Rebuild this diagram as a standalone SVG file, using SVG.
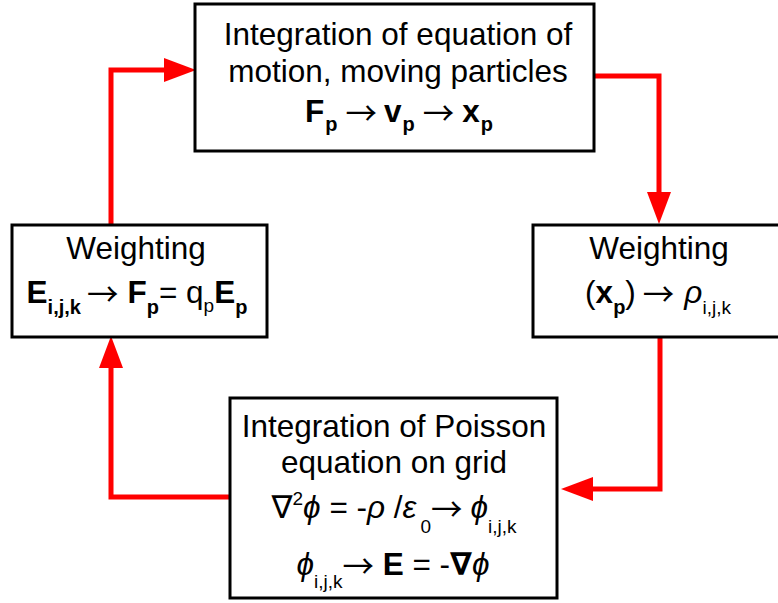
<svg xmlns="http://www.w3.org/2000/svg" width="778" height="603" viewBox="0 0 778 603">
<style>
.box{fill:#fff;stroke:#000;stroke-width:3}
.conn{fill:none;stroke:#ff0000;stroke-width:5;stroke-linejoin:miter}
text{font-family:"Liberation Sans",Arial,"DejaVu Sans",sans-serif;font-size:31.5px;fill:#000;text-anchor:middle}
.b{font-weight:bold}
.s{font-size:19px}
.sb{font-size:20px;font-weight:bold}
.sup{font-size:19px}
.g{font-style:italic}
.ar{font-family:"Noto Sans CJK SC","DejaVu Sans",sans-serif;font-weight:normal}
</style>
<defs>
<marker id="ah" markerUnits="userSpaceOnUse" markerWidth="32" markerHeight="24" viewBox="0 0 32 24" refX="0" refY="12" orient="auto">
<path d="M0,0 L32,12 L0,24 Z" fill="#ff0000"/>
</marker>
</defs>
<g id="connectors">
<path class="conn" d="M111,224 V70 H164" marker-end="url(#ah)"/>
<path class="conn" d="M594,76 H659 V192" marker-end="url(#ah)"/>
<path class="conn" d="M660,338 V489 H593" marker-end="url(#ah)"/>
<path class="conn" d="M230,497 H111 V368" marker-end="url(#ah)"/>
</g>
<g id="motion">
<rect class="box" x="195" y="4" width="399" height="147"/>
<text x="398" y="45">Integration of equation of</text>
<text x="398" y="82">motion, moving particles</text>
<text x="399" y="122"><tspan class="b">F</tspan><tspan class="sb" dy="9" dx="1">p</tspan><tspan class="ar" dy="-6" dx="8">→</tspan><tspan class="b" dy="-3" dx="7">v</tspan><tspan class="sb" dy="9" dx="1">p</tspan><tspan class="ar" dy="-6" dx="8">→</tspan><tspan class="b" dy="-3" dx="8">x</tspan><tspan class="sb" dy="9" dx="1">p</tspan></text>
</g>
<g id="weighting-force">
<rect class="box" x="12" y="225" width="255" height="112"/>
<text x="136" y="259">Weighting</text>
<text x="137" y="303"><tspan class="b">E</tspan><tspan class="sb" dy="11">i,j,k</tspan><tspan class="ar" dy="-8" dx="6">→</tspan><tspan class="b" dy="-3" dx="9">F</tspan><tspan class="sb" dy="11">p</tspan><tspan dy="-11">= q</tspan><tspan class="s" dy="9">p</tspan><tspan class="b" dy="-9">E</tspan><tspan class="sb" dy="11">p</tspan></text>
</g>
<g id="weighting-charge">
<rect class="box" x="533" y="225" width="253" height="112"/>
<text x="659" y="259">Weighting</text>
<text x="658" y="303"><tspan>(</tspan><tspan class="b">x</tspan><tspan class="sb" dy="11">p</tspan><tspan dy="-11">)</tspan><tspan class="ar" dy="3" dx="7">→</tspan><tspan class="g" dy="-3" dx="10">ρ</tspan><tspan class="s" dy="11">i,j,k</tspan></text>
</g>
<g id="poisson">
<rect class="box" x="230" y="398" width="327" height="200"/>
<text x="394" y="437">Integration of Poisson</text>
<text x="394" y="473">equation on grid</text>
<text x="394" y="518"><tspan>∇</tspan><tspan class="sup" dy="-13">2</tspan><tspan class="g" dy="13">ϕ</tspan><tspan> = -</tspan><tspan class="g">ρ</tspan><tspan> /</tspan><tspan class="g">ε</tspan><tspan class="s" dy="15" dx="4">0</tspan><tspan class="ar" dy="-12">→</tspan><tspan class="g" dy="-3" dx="8">ϕ</tspan><tspan class="s" dy="15">i,j,k</tspan></text>
<text x="393" y="575"><tspan class="g">ϕ</tspan><tspan class="s" dy="13">i,j,k</tspan><tspan class="ar" dy="-10">→</tspan><tspan dy="-3"> </tspan><tspan class="b">E</tspan><tspan> = -</tspan><tspan class="b">∇</tspan><tspan class="g">ϕ</tspan></text>
</g>
</svg>
